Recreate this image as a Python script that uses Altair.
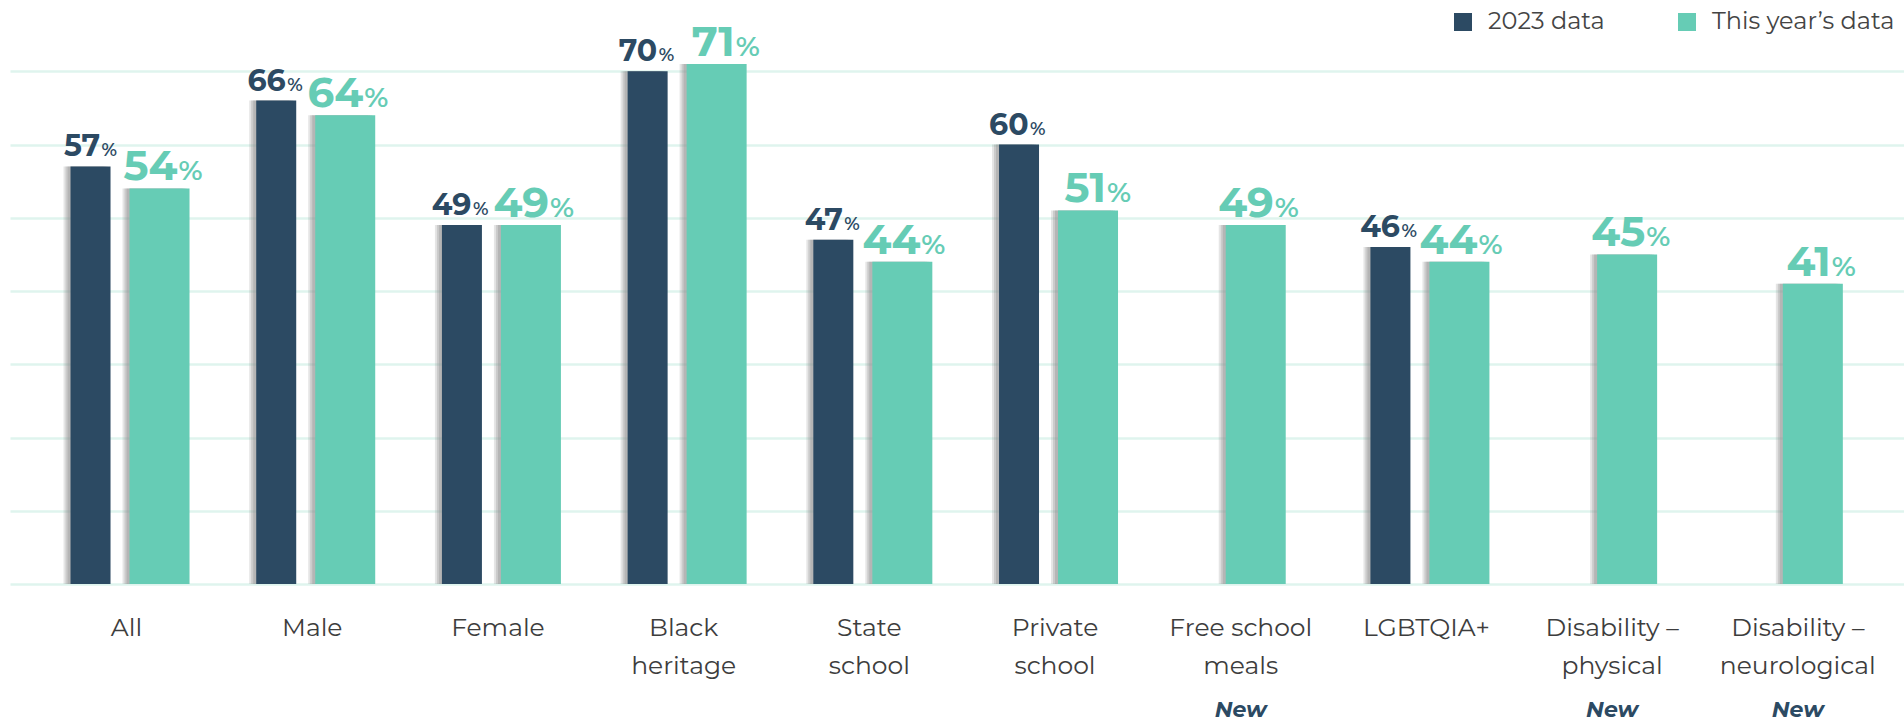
import altair as alt
import pandas as pd

# ---------------- data ----------------
categories = [
    "All", "Male", "Female", "Black|heritage", "State|school", "Private|school",
    "Free school|meals", "LGBTQIA+", "Disability –|physical", "Disability –|neurological",
]
values_2023 = [57, 66, 49, 70, 47, 60, None, 46, None, None]
values_this_year = [54, 64, 49, 71, 44, 51, 49, 44, 45, 41]
series_names = ["2023 data", "This year’s data"]
new_tag = "New"

rows = []
for cat, v23, vty in zip(categories, values_2023, values_this_year):
    is_new = v23 is None
    if v23 is not None:
        rows.append(dict(category=cat, series=series_names[0], value=v23, new=is_new))
    rows.append(dict(category=cat, series=series_names[1], value=vty, new=is_new))
df = pd.DataFrame(rows)

# ---------------- style ----------------
DARK = "#2C4A63"
TEAL = "#66CCB5"
GRID = "#DFF4EE"
LABEL = "#3d3d3d"
FONT = "Montserrat, Open Sans, sans-serif"
W, H = 1894, 564

x_enc = alt.X(
    "category:N",
    sort=categories,
    scale=alt.Scale(paddingInner=0, paddingOuter=0.0996, align=0.64),
    axis=alt.Axis(
        title=None, labelExpr="split(datum.label, '|')", labelFontSize=25,
        labelColor=LABEL, labelFont=FONT, labelPadding=31, labelLineHeight=38,
        labelBaseline="top", ticks=False, domain=False, labelAngle=0, grid=False,
        labelLimit=400,
    ),
)
y_enc = alt.Y(
    "value:Q",
    scale=alt.Scale(domain=[0, 77], nice=False),
    axis=alt.Axis(
        title=None, labels=False, ticks=False, domain=False,
        values=[0, 10, 20, 30, 40, 50, 60, 70], grid=True,
        gridColor=GRID, gridWidth=2.5, gridOpacity=1,
    ),
)
color_enc = alt.Color(
    "series:N",
    scale=alt.Scale(domain=series_names, range=[DARK, TEAL]),
    legend=alt.Legend(
        title=None, orient="none", legendX=1441, legendY=-10, direction="horizontal",
        symbolType="square", symbolSize=324, symbolStrokeWidth=0, labelFontSize=24,
        labelColor="#444444", labelFont=FONT, labelOffset=13, columnPadding=70,
        padding=0, labelLimit=400,
    ),
)

base = alt.Chart(df).encode(x=x_enc, y=y_enc)

groups = [
    # filter, bar width, bar offset, colour, num size, pct size, num dx, pct dx, dy
    ("datum.series === '2023 data'", 40, -36, DARK, 30, 18, 9.5, 11, -10),
    ("datum.series !== '2023 data' && !datum.new", 60, 33, TEAL, 42, 28, 18, 19, -8),
    ("datum.series !== '2023 data' && datum.new", 60, 15, TEAL, 42, 28, 18, 19, -8),
]

layers = []
for filt, bw, off, col, nsize, psize, ndx, pdx, dy in groups:
    sub = base.transform_filter(filt)
    for s, o in [(7, 0.22), (5, 0.28), (3, 0.32)]:
        layers.append(sub.mark_bar(
            width=bw, xOffset=off - s, color="#8a8a8a", opacity=o,
        ).encode(y2=alt.Y2(datum=0)))
    layers.append(sub.mark_bar(width=bw, xOffset=off).encode(color=color_enc))
    layers.append(sub.mark_text(
        align="right", baseline="alphabetic", dx=off + ndx, dy=dy, font=FONT,
        fontSize=nsize, fontWeight="bold", color=col,
    ).encode(text=alt.Text("value:Q", format="d")))
    layers.append(sub.mark_text(
        align="left", baseline="alphabetic", dx=off + pdx, dy=dy, font=FONT,
        fontSize=psize, fontWeight=600, color=col, text="%",
    ))

new_layer = alt.Chart(df).transform_filter(
    "datum.new && datum.series !== '2023 data'"
).mark_text(
    align="center", baseline="alphabetic", font=FONT, fontSize=22,
    fontWeight="bold", fontStyle="italic", color=DARK,
).encode(x=x_enc, y=alt.value(697), text=alt.value(new_tag))
layers.append(new_layer)

chart = alt.layer(*layers).properties(
    width=W, height=H, autosize="none",
    padding={"left": 10, "top": 20, "right": 0, "bottom": 138},
).configure(background="white").configure_view(stroke=None)

chart.save("out.html", embed_options={"renderer": "svg", "actions": False})
